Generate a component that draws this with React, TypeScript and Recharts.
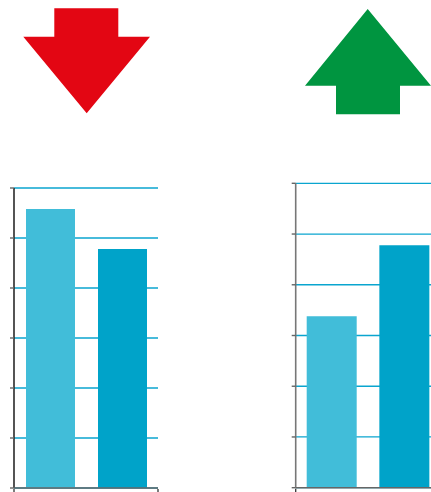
import React from 'react';
import { BarChart, Bar, XAxis, YAxis, CartesianGrid, Cell } from 'recharts';

const categories = ['A', 'B'];
const leftValues = [5.58, 4.78];
const rightValues = [3.38, 4.78];
const yTicks = [0, 1, 2, 3, 4, 5, 6];
const edgeTicks = [0, 1, 2];
const barColors = ['#41BDD9', '#00A3C9'];

const leftData = categories.map((name, i) => ({ name, value: leftValues[i] }));
const rightData = categories.map((name, i) => ({ name, value: rightValues[i] }));

type PanelProps = {
  data: { name: string; value: number }[];
  margin: { top: number; right: number; bottom: number; left: number };
  barSize: number;
  axisColor: string;
};

const NoTick = () => <g />;

function Panel({ data, margin, barSize, axisColor }: PanelProps) {
  return (
    <BarChart width={170} height={498} data={data} margin={margin}>
      <CartesianGrid horizontal vertical={false} stroke="#0AA5CF" strokeWidth={1.3} />
      <YAxis
        domain={[0, 6]}
        ticks={yTicks}
        type="number"
        width={1}
        tick={NoTick}
        tickSize={4}
        interval={0}
        axisLine={{ stroke: axisColor, strokeWidth: 1.6 }}
        tickLine={{ stroke: '#666', strokeWidth: 1.4 }}
      />
      <XAxis
        dataKey="name"
        height={1}
        tick={NoTick}
        tickLine={false}
        axisLine={{ stroke: '#666', strokeWidth: 1.6 }}
      />
      <XAxis
        xAxisId="edges"
        type="number"
        domain={[0, 2]}
        ticks={edgeTicks}
        interval={0}
        allowDataOverflow
        height={1}
        tick={NoTick}
        tickSize={4}
        axisLine={false}
        tickLine={{ stroke: '#333', strokeWidth: 1.3 }}
      />
      <Bar dataKey="value" barSize={barSize} isAnimationActive={false}>
        {data.map((d, i) => (
          <Cell key={d.name} fill={barColors[i]} />
        ))}
      </Bar>
    </BarChart>
  );
}

export default function App() {
  return (
    <div style={{ position: 'absolute', left: 0, top: 0, width: 431, height: 492, overflow: 'hidden', background: '#fff' }}>
      <svg width={431} height={130} style={{ position: 'absolute', left: 0, top: 0 }}>
        <polygon
          points="54.3,8.3 118.3,8.3 118.3,36.7 150,36.7 86.7,113.3 23.3,36.7 54.3,36.7"
          fill="#E30613"
        />
        <polygon
          points="367.7,9 431,85.7 400,85.7 400,114.3 336,114.3 336,85.7 305,85.7"
          fill="#009540"
        />
      </svg>
      <div style={{ position: 'absolute', left: 0, top: 0 }}>
        <Panel data={leftData} margin={{ top: 188, right: 12, bottom: 8, left: 13 }} barSize={49} axisColor="#2a2a2a" />
      </div>
      <div style={{ position: 'absolute', left: 280, top: 0 }}>
        <Panel data={rightData} margin={{ top: 183.3, right: 9, bottom: 8.3, left: 14.7 }} barSize={50} axisColor="#777" />
      </div>
    </div>
  );
}
